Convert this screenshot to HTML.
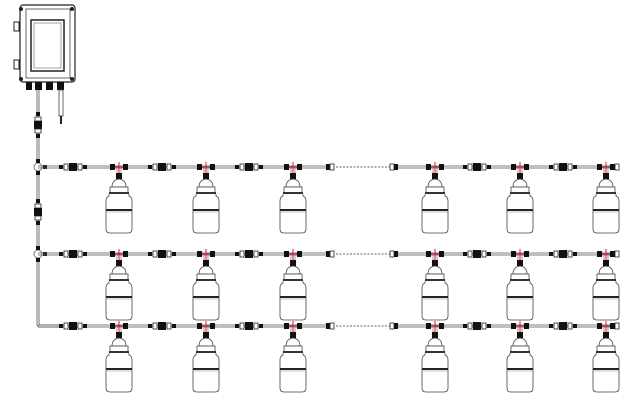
<!DOCTYPE html>
<html><head><meta charset="utf-8"><style>html,body{margin:0;padding:0;background:#fff}svg{display:block}</style></head>
<body>
<svg width="642" height="404" viewBox="0 0 642 404" xmlns="http://www.w3.org/2000/svg">
<defs>
<g id="bottle">
  <rect x="-9" y="-3" width="5" height="6" fill="#111"/>
  <rect x="4" y="-3" width="5" height="6" fill="#111"/>
  <line x1="0" y1="-5" x2="0" y2="6" stroke="#e01030" stroke-width="1"/>
  <line x1="-4" y1="0" x2="4" y2="0" stroke="#e01030" stroke-width="1"/>
  <line x1="-2" y1="0" x2="-2" y2="6" stroke="#888" stroke-width="0.8"/>
  <line x1="2" y1="0" x2="2" y2="6" stroke="#888" stroke-width="0.8"/>
  <rect x="-3" y="6" width="6" height="6" fill="#111"/>
  <path d="M-7 20 Q-7 13 0 12 Q7 13 7 20 Z" fill="#fff" stroke="#444" stroke-width="0.8"/>
  <rect x="-9" y="20" width="18" height="6" fill="#fff" stroke="#444" stroke-width="0.8"/>
  <rect x="-10" y="25" width="20" height="2" fill="#333"/>
  <path d="M-10 27 L-10 29 Q-13 30 -13 34 L-13 62 Q-13 66 -9 66 L9 66 Q13 66 13 62 L13 34 Q13 30 10 29 L10 27" fill="#fff" stroke="#444" stroke-width="0.8"/>
  <rect x="-13" y="42" width="26" height="2" fill="#222"/>
  <line x1="-13" y1="45" x2="13" y2="45" stroke="#888" stroke-width="0.6"/>
</g>
<g id="coup">
  <rect x="-14" y="-2" width="4" height="4" fill="#111"/>
  <rect x="-9" y="-3" width="4" height="6" fill="#fff" stroke="#222" stroke-width="0.8"/>
  <rect x="-4" y="-4" width="8" height="8" fill="#111"/>
  <rect x="5" y="-3" width="4" height="6" fill="#fff" stroke="#222" stroke-width="0.8"/>
  <rect x="10" y="-2" width="4" height="4" fill="#111"/>
</g>
<g id="vcoup">
  <rect x="-2" y="-13" width="4" height="4" fill="#111"/>
  <rect x="-3" y="-8" width="6" height="4" fill="#fff" stroke="#222" stroke-width="0.8"/>
  <rect x="-4" y="-4" width="8" height="8" fill="#111"/>
  <rect x="-3" y="4" width="6" height="4" fill="#fff" stroke="#222" stroke-width="0.8"/>
  <rect x="-2" y="9" width="4" height="4" fill="#111"/>
</g>
<g id="endL"><rect x="-4" y="-3" width="4" height="6" fill="#111"/><rect x="-8" y="-3" width="4" height="6" fill="#fff" stroke="#222" stroke-width="0.8"/></g>
<g id="endR"><rect x="0" y="-3" width="4" height="6" fill="#111"/><rect x="4" y="-3" width="4" height="6" fill="#fff" stroke="#222" stroke-width="0.8"/></g>
<g id="row">
  <line x1="38" y1="-1" x2="333" y2="-1" stroke="#555" stroke-width="0.8"/>
  <line x1="38" y1="1" x2="333" y2="1" stroke="#555" stroke-width="0.8"/>
  <line x1="336" y1="0" x2="390" y2="0" stroke="#333" stroke-width="0.8" stroke-dasharray="2,1.5"/>
  <line x1="394" y1="-1" x2="614" y2="-1" stroke="#555" stroke-width="0.8"/>
  <line x1="394" y1="1" x2="614" y2="1" stroke="#555" stroke-width="0.8"/>
  <use href="#coup" x="73"/><use href="#coup" x="162"/><use href="#coup" x="249"/>
  <use href="#endR" x="326"/><use href="#endL" x="398"/>
  <use href="#coup" x="477"/><use href="#coup" x="563"/>
  <use href="#endR" x="611"/>
  <use href="#bottle" x="119"/><use href="#bottle" x="206"/><use href="#bottle" x="293"/>
  <use href="#bottle" x="435"/><use href="#bottle" x="520"/><use href="#bottle" x="606"/>
</g>
</defs>
<rect x="20" y="5" width="55" height="77" rx="3" fill="#fff" stroke="#222" stroke-width="1.2"/>
<rect x="26" y="9" width="44" height="69" fill="#fff" stroke="#444" stroke-width="0.8"/>
<rect x="31" y="20" width="33" height="51" fill="#fff" stroke="#222" stroke-width="1.5"/>
<rect x="34" y="23" width="27" height="45" fill="#fff" stroke="#666" stroke-width="0.6"/>
<circle cx="21" cy="9" r="2" fill="#222"/><circle cx="72" cy="9" r="2" fill="#222"/>
<circle cx="21" cy="79" r="2" fill="#222"/><circle cx="72" cy="79" r="2" fill="#222"/>
<rect x="14" y="22" width="5" height="9" fill="#fff" stroke="#222"/><rect x="14" y="60" width="5" height="9" fill="#fff" stroke="#222"/>
<rect x="26" y="82" width="6" height="8" fill="#111"/><rect x="35" y="82" width="7" height="8" fill="#111"/>
<rect x="46" y="82" width="7" height="8" fill="#111"/><rect x="57" y="82" width="7" height="8" fill="#111"/>
<rect x="59" y="90" width="4" height="26" fill="#fff" stroke="#444" stroke-width="0.8"/>
<rect x="60" y="116" width="2" height="8" fill="#222"/>
<path d="M37 90 L37 324 Q37 327 40 327 L60 327" fill="none" stroke="#555" stroke-width="0.8"/>
<path d="M39 90 L39 323 Q39 325 41 325 L60 325" fill="none" stroke="#555" stroke-width="0.8"/>
<use href="#vcoup" x="38" y="125"/>
<use href="#vcoup" x="38" y="212"/>
<g>
  <circle cx="38" cy="167" r="4" fill="#fff" stroke="#666" stroke-width="0.8"/>
  <rect x="36" y="159" width="4" height="4" fill="#111"/><rect x="36" y="171" width="4" height="4" fill="#111"/><rect x="43" y="165" width="4" height="4" fill="#111"/>
  <circle cx="38" cy="254" r="4" fill="#fff" stroke="#666" stroke-width="0.8"/>
  <rect x="36" y="246" width="4" height="4" fill="#111"/><rect x="36" y="258" width="4" height="4" fill="#111"/><rect x="43" y="252" width="4" height="4" fill="#111"/>
</g>
<use href="#row" y="167"/>
<use href="#row" y="254"/>
<use href="#row" y="326"/>
</svg>
</body></html>
